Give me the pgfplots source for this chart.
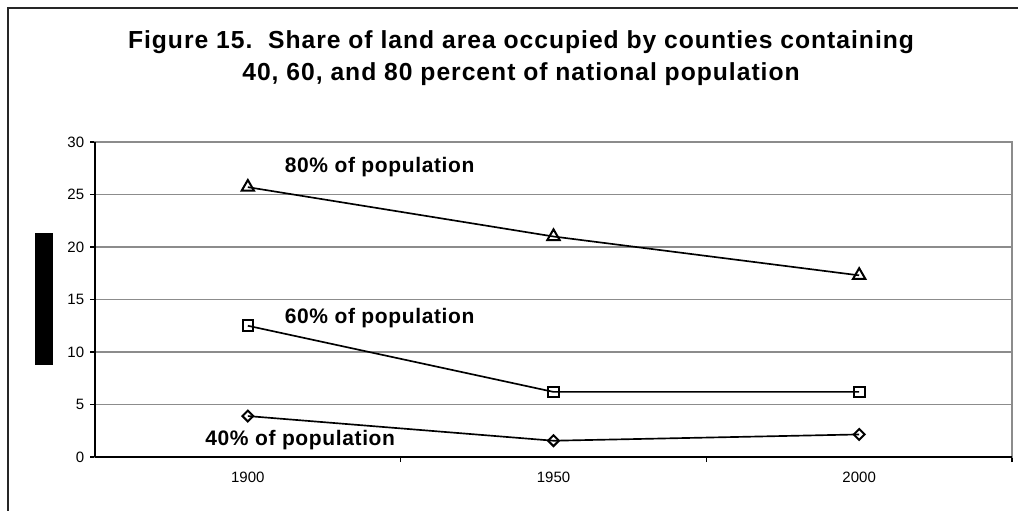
\documentclass[border=0pt]{standalone}
\usepackage{pgfplots}
\pgfplotsset{compat=1.18}
\usepackage{fontspec}
\setmainfont{Liberation Sans}
\begin{document}
\begin{tikzpicture}
\useasboundingbox (0,0) rectangle (610.8pt,306pt);
% outer frame (right and bottom edges lie outside the picture)
\draw[line width=1.1pt, black!85] (4.8pt,-20pt) -- (4.8pt,301.2pt) -- (640pt,301.2pt);
% title
\node[font=\fontsize{14.8}{18}\selectfont\bfseries\addfontfeatures{LetterSpace=4}, anchor=base] at (312.6pt,276.6pt) {Figure 15.\ \ Share of land area occupied by counties containing};
\node[font=\fontsize{14.8}{18}\selectfont\bfseries\addfontfeatures{LetterSpace=4}, anchor=base] at (312.6pt,258pt) {40, 60, and 80 percent of national population};
% black box (as in the reference)
\fill[black] (21pt,87pt) rectangle (31.8pt,166.2pt);
\begin{axis}[
  at={(57pt,31.8pt)}, anchor=south west,
  scale only axis, width=550.2pt, height=189pt,
  xmin=0, xmax=3, ymin=0, ymax=30,
  xtick={0.5,1.5,2.5}, xticklabels={1900,1950,2000},
  minor xtick={1,2,3},
  major x tick style={draw=none},
  minor tick length=3pt,
  ytick={0,5,...,30}, major tick length=3pt,
  tick align=outside, tick pos=lower,
  ymajorgrids, grid style={gray!90, line width=0.7pt},
  axis line style={gray!90, line width=0.8pt},
  tick style={black, line width=0.7pt},
  tick label style={font=\fontsize{9}{10}\selectfont},
  xticklabel style={yshift=-2.5pt},
  /pgf/number format/assume math mode=true,
  clip=false,
]
\addplot[black, line width=1pt, mark=triangle, mark size=4.3pt, mark options={solid, fill=white, line width=1.2pt}]
  coordinates {(0.5,25.7) (1.5,21.0) (2.5,17.3)};
\addplot[black, line width=1pt, mark=square, mark size=3.2pt, mark options={solid, fill=white, line width=1.2pt}]
  coordinates {(0.5,12.5) (1.5,6.2) (2.5,6.2)};
\addplot[black, line width=1pt, mark=square, mark size=2.3pt, mark options={solid, fill=white, line width=1.2pt, rotate=45}]
  coordinates {(0.5,3.9) (1.5,1.55) (2.5,2.15)};
\draw[black, line width=0.9pt] (rel axis cs:0,0) -- (rel axis cs:0,1);
\draw[black, line width=0.9pt] (rel axis cs:0,0) -- (rel axis cs:1,0);
\node[anchor=base west, font=\fontsize{12.6}{14}\selectfont\bfseries\addfontfeatures{LetterSpace=3}, inner sep=0pt] at (axis cs:0.62,27.14) {80\% of population};
\node[anchor=base west, font=\fontsize{12.6}{14}\selectfont\bfseries\addfontfeatures{LetterSpace=3}, inner sep=0pt] at (axis cs:0.62,12.76) {60\% of population};
\node[anchor=base west, font=\fontsize{12.6}{14}\selectfont\bfseries\addfontfeatures{LetterSpace=3}, inner sep=0pt] at (axis cs:0.36,1.14) {40\% of population};
\end{axis}
\end{tikzpicture}
\end{document}
